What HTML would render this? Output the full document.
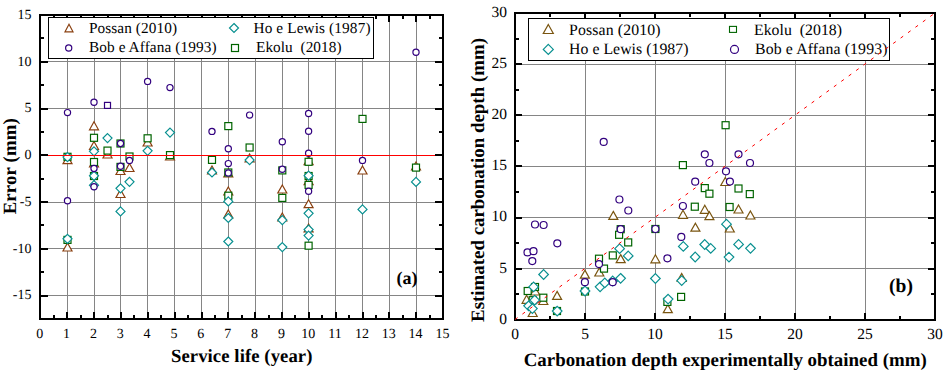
<!DOCTYPE html><html><head><meta charset="utf-8"><style>html,body{margin:0;padding:0;background:#fff;width:949px;height:378px;overflow:hidden}svg{display:block;position:absolute;left:0;top:0}text{font-family:"Liberation Serif",serif;text-rendering:geometricPrecision}</style></head><body>
<svg width="949" height="378" viewBox="0 0 949 378">
<path d="M67.5 15V319M94.5 15V319M120.5 15V319M147.5 15V319M174.5 15V319M201.5 15V319M228.5 15V319M255.5 15V319M282.5 15V319M308.5 15V319M335.5 15V319M362.5 15V319M389.5 15V319M416.5 15V319M40 61.5H443M40 108.5H443M40 155.5H443M40 202.5H443M40 248.5H443M40 295.5H443" stroke="#858585" stroke-width="1" fill="none"/>
<path d="M67.5 155.6L72.0 163.6H63.0Z" fill="#fff" stroke="#8a4010" stroke-width="1.2" stroke-linejoin="miter"/>
<path d="M67.5 243.0L72.0 251.0H63.0Z" fill="#fff" stroke="#8a4010" stroke-width="1.2" stroke-linejoin="miter"/>
<path d="M94.0 121.8L98.5 129.8H89.5Z" fill="#fff" stroke="#8a4010" stroke-width="1.2" stroke-linejoin="miter"/>
<path d="M94.0 141.5L98.5 149.5H89.5Z" fill="#fff" stroke="#8a4010" stroke-width="1.2" stroke-linejoin="miter"/>
<path d="M94.0 159.0L98.5 167.0H89.5Z" fill="#fff" stroke="#8a4010" stroke-width="1.2" stroke-linejoin="miter"/>
<path d="M107.5 150.0L112.0 158.0H103.0Z" fill="#fff" stroke="#8a4010" stroke-width="1.2" stroke-linejoin="miter"/>
<path d="M120.5 166.5L125.0 174.5H116.0Z" fill="#fff" stroke="#8a4010" stroke-width="1.2" stroke-linejoin="miter"/>
<path d="M120.5 189.5L125.0 197.5H116.0Z" fill="#fff" stroke="#8a4010" stroke-width="1.2" stroke-linejoin="miter"/>
<path d="M129.5 163.5L134.0 171.5H125.0Z" fill="#fff" stroke="#8a4010" stroke-width="1.2" stroke-linejoin="miter"/>
<path d="M147.6 138.0L152.1 146.0H143.1Z" fill="#fff" stroke="#8a4010" stroke-width="1.2" stroke-linejoin="miter"/>
<path d="M170.0 152.0L174.5 160.0H165.5Z" fill="#fff" stroke="#8a4010" stroke-width="1.2" stroke-linejoin="miter"/>
<path d="M212.0 166.0L216.5 174.0H207.5Z" fill="#fff" stroke="#8a4010" stroke-width="1.2" stroke-linejoin="miter"/>
<path d="M228.3 169.0L232.8 177.0H223.8Z" fill="#fff" stroke="#8a4010" stroke-width="1.2" stroke-linejoin="miter"/>
<path d="M228.3 187.0L232.8 195.0H223.8Z" fill="#fff" stroke="#8a4010" stroke-width="1.2" stroke-linejoin="miter"/>
<path d="M228.3 210.0L232.8 218.0H223.8Z" fill="#fff" stroke="#8a4010" stroke-width="1.2" stroke-linejoin="miter"/>
<path d="M249.6 154.0L254.1 162.0H245.1Z" fill="#fff" stroke="#8a4010" stroke-width="1.2" stroke-linejoin="miter"/>
<path d="M282.3 185.0L286.8 193.0H277.8Z" fill="#fff" stroke="#8a4010" stroke-width="1.2" stroke-linejoin="miter"/>
<path d="M282.3 213.0L286.8 221.0H277.8Z" fill="#fff" stroke="#8a4010" stroke-width="1.2" stroke-linejoin="miter"/>
<path d="M308.6 156.6L313.1 164.6H304.1Z" fill="#fff" stroke="#8a4010" stroke-width="1.2" stroke-linejoin="miter"/>
<path d="M308.6 176.6L313.1 184.6H304.1Z" fill="#fff" stroke="#8a4010" stroke-width="1.2" stroke-linejoin="miter"/>
<path d="M308.6 199.7L313.1 207.7H304.1Z" fill="#fff" stroke="#8a4010" stroke-width="1.2" stroke-linejoin="miter"/>
<path d="M308.6 224.0L313.1 232.0H304.1Z" fill="#fff" stroke="#8a4010" stroke-width="1.2" stroke-linejoin="miter"/>
<path d="M362.5 166.0L367.0 174.0H358.0Z" fill="#fff" stroke="#8a4010" stroke-width="1.2" stroke-linejoin="miter"/>
<path d="M416.0 162.0L420.5 170.0H411.5Z" fill="#fff" stroke="#8a4010" stroke-width="1.2" stroke-linejoin="miter"/>
<rect x="64.0" y="153.3" width="7" height="7" fill="#fff" stroke="#006400" stroke-width="1.2"/>
<rect x="64.0" y="236.4" width="7" height="7" fill="#fff" stroke="#006400" stroke-width="1.2"/>
<rect x="90.5" y="134.3" width="7" height="7" fill="#fff" stroke="#006400" stroke-width="1.2"/>
<rect x="90.5" y="158.5" width="7" height="7" fill="#fff" stroke="#006400" stroke-width="1.2"/>
<rect x="90.5" y="172.5" width="7" height="7" fill="#fff" stroke="#006400" stroke-width="1.2"/>
<rect x="104.0" y="147.1" width="7" height="7" fill="#fff" stroke="#006400" stroke-width="1.2"/>
<rect x="117.0" y="140.0" width="7" height="7" fill="#fff" stroke="#006400" stroke-width="1.2"/>
<rect x="117.0" y="163.4" width="7" height="7" fill="#fff" stroke="#006400" stroke-width="1.2"/>
<rect x="126.0" y="153.0" width="7" height="7" fill="#fff" stroke="#006400" stroke-width="1.2"/>
<rect x="144.1" y="134.8" width="7" height="7" fill="#fff" stroke="#006400" stroke-width="1.2"/>
<rect x="166.5" y="151.6" width="7" height="7" fill="#fff" stroke="#006400" stroke-width="1.2"/>
<rect x="208.5" y="156.4" width="7" height="7" fill="#fff" stroke="#006400" stroke-width="1.2"/>
<rect x="224.8" y="122.6" width="7" height="7" fill="#fff" stroke="#006400" stroke-width="1.2"/>
<rect x="224.8" y="169.0" width="7" height="7" fill="#fff" stroke="#006400" stroke-width="1.2"/>
<rect x="224.8" y="192.2" width="7" height="7" fill="#fff" stroke="#006400" stroke-width="1.2"/>
<rect x="246.1" y="144.0" width="7" height="7" fill="#fff" stroke="#006400" stroke-width="1.2"/>
<rect x="278.8" y="166.9" width="7" height="7" fill="#fff" stroke="#006400" stroke-width="1.2"/>
<rect x="278.8" y="194.4" width="7" height="7" fill="#fff" stroke="#006400" stroke-width="1.2"/>
<rect x="305.1" y="158.3" width="7" height="7" fill="#fff" stroke="#006400" stroke-width="1.2"/>
<rect x="305.1" y="172.5" width="7" height="7" fill="#fff" stroke="#006400" stroke-width="1.2"/>
<rect x="305.1" y="181.4" width="7" height="7" fill="#fff" stroke="#006400" stroke-width="1.2"/>
<rect x="305.1" y="242.2" width="7" height="7" fill="#fff" stroke="#006400" stroke-width="1.2"/>
<rect x="359.0" y="115.4" width="7" height="7" fill="#fff" stroke="#006400" stroke-width="1.2"/>
<rect x="412.5" y="164.1" width="7" height="7" fill="#fff" stroke="#006400" stroke-width="1.2"/>
<rect x="104.5" y="102.4" width="6" height="6" fill="#fff" stroke="#32007f" stroke-width="1.2"/>
<path d="M67.5 152.6L72.0 157.1L67.5 161.6L63.0 157.1Z" fill="#fff" stroke="#089090" stroke-width="1.2"/>
<path d="M67.5 234.3L72.0 238.8L67.5 243.3L63.0 238.8Z" fill="#fff" stroke="#089090" stroke-width="1.2"/>
<path d="M94.0 146.8L98.5 151.3L94.0 155.8L89.5 151.3Z" fill="#fff" stroke="#089090" stroke-width="1.2"/>
<path d="M94.0 171.3L98.5 175.8L94.0 180.3L89.5 175.8Z" fill="#fff" stroke="#089090" stroke-width="1.2"/>
<path d="M94.0 180.7L98.5 185.2L94.0 189.7L89.5 185.2Z" fill="#fff" stroke="#089090" stroke-width="1.2"/>
<path d="M107.5 133.6L112.0 138.1L107.5 142.6L103.0 138.1Z" fill="#fff" stroke="#089090" stroke-width="1.2"/>
<path d="M120.5 183.8L125.0 188.3L120.5 192.8L116.0 188.3Z" fill="#fff" stroke="#089090" stroke-width="1.2"/>
<path d="M120.5 206.9L125.0 211.4L120.5 215.9L116.0 211.4Z" fill="#fff" stroke="#089090" stroke-width="1.2"/>
<path d="M129.5 177.3L134.0 181.8L129.5 186.3L125.0 181.8Z" fill="#fff" stroke="#089090" stroke-width="1.2"/>
<path d="M147.6 146.3L152.1 150.8L147.6 155.3L143.1 150.8Z" fill="#fff" stroke="#089090" stroke-width="1.2"/>
<path d="M170.0 128.1L174.5 132.6L170.0 137.1L165.5 132.6Z" fill="#fff" stroke="#089090" stroke-width="1.2"/>
<path d="M212.0 168.0L216.5 172.5L212.0 177.0L207.5 172.5Z" fill="#fff" stroke="#089090" stroke-width="1.2"/>
<path d="M228.3 196.9L232.8 201.4L228.3 205.9L223.8 201.4Z" fill="#fff" stroke="#089090" stroke-width="1.2"/>
<path d="M228.3 213.5L232.8 218.0L228.3 222.5L223.8 218.0Z" fill="#fff" stroke="#089090" stroke-width="1.2"/>
<path d="M228.3 237.0L232.8 241.5L228.3 246.0L223.8 241.5Z" fill="#fff" stroke="#089090" stroke-width="1.2"/>
<path d="M249.6 155.6L254.1 160.1L249.6 164.6L245.1 160.1Z" fill="#fff" stroke="#089090" stroke-width="1.2"/>
<path d="M282.3 215.6L286.8 220.1L282.3 224.6L277.8 220.1Z" fill="#fff" stroke="#089090" stroke-width="1.2"/>
<path d="M282.3 242.6L286.8 247.1L282.3 251.6L277.8 247.1Z" fill="#fff" stroke="#089090" stroke-width="1.2"/>
<path d="M308.6 171.2L313.1 175.7L308.6 180.2L304.1 175.7Z" fill="#fff" stroke="#089090" stroke-width="1.2"/>
<path d="M308.6 208.8L313.1 213.3L308.6 217.8L304.1 213.3Z" fill="#fff" stroke="#089090" stroke-width="1.2"/>
<path d="M308.6 225.1L313.1 229.6L308.6 234.1L304.1 229.6Z" fill="#fff" stroke="#089090" stroke-width="1.2"/>
<path d="M308.6 231.1L313.1 235.6L308.6 240.1L304.1 235.6Z" fill="#fff" stroke="#089090" stroke-width="1.2"/>
<path d="M362.5 204.9L367.0 209.4L362.5 213.9L358.0 209.4Z" fill="#fff" stroke="#089090" stroke-width="1.2"/>
<path d="M416.0 177.4L420.5 181.9L416.0 186.4L411.5 181.9Z" fill="#fff" stroke="#089090" stroke-width="1.2"/>
<circle cx="67.5" cy="112.6" r="3.1" fill="#fff" stroke="#32007f" stroke-width="1.2"/>
<circle cx="67.5" cy="200.8" r="3.1" fill="#fff" stroke="#32007f" stroke-width="1.2"/>
<circle cx="94.0" cy="102.3" r="3.1" fill="#fff" stroke="#32007f" stroke-width="1.2"/>
<circle cx="94.0" cy="168.5" r="3.1" fill="#fff" stroke="#32007f" stroke-width="1.2"/>
<circle cx="94.0" cy="186.8" r="3.1" fill="#fff" stroke="#32007f" stroke-width="1.2"/>
<circle cx="120.5" cy="143.5" r="3.1" fill="#fff" stroke="#32007f" stroke-width="1.2"/>
<circle cx="120.5" cy="166.3" r="3.1" fill="#fff" stroke="#32007f" stroke-width="1.2"/>
<circle cx="129.5" cy="160.4" r="3.1" fill="#fff" stroke="#32007f" stroke-width="1.2"/>
<circle cx="147.6" cy="81.4" r="3.1" fill="#fff" stroke="#32007f" stroke-width="1.2"/>
<circle cx="170.0" cy="87.6" r="3.1" fill="#fff" stroke="#32007f" stroke-width="1.2"/>
<circle cx="212.0" cy="131.4" r="3.1" fill="#fff" stroke="#32007f" stroke-width="1.2"/>
<circle cx="228.3" cy="148.8" r="3.1" fill="#fff" stroke="#32007f" stroke-width="1.2"/>
<circle cx="228.3" cy="163.6" r="3.1" fill="#fff" stroke="#32007f" stroke-width="1.2"/>
<circle cx="228.3" cy="172.9" r="3.1" fill="#fff" stroke="#32007f" stroke-width="1.2"/>
<circle cx="249.6" cy="115.1" r="3.1" fill="#fff" stroke="#32007f" stroke-width="1.2"/>
<circle cx="282.3" cy="141.7" r="3.1" fill="#fff" stroke="#32007f" stroke-width="1.2"/>
<circle cx="282.3" cy="169.2" r="3.1" fill="#fff" stroke="#32007f" stroke-width="1.2"/>
<circle cx="308.6" cy="113.5" r="3.1" fill="#fff" stroke="#32007f" stroke-width="1.2"/>
<circle cx="308.6" cy="131.3" r="3.1" fill="#fff" stroke="#32007f" stroke-width="1.2"/>
<circle cx="308.6" cy="153.3" r="3.1" fill="#fff" stroke="#32007f" stroke-width="1.2"/>
<circle cx="308.6" cy="191.3" r="3.1" fill="#fff" stroke="#32007f" stroke-width="1.2"/>
<circle cx="362.5" cy="160.4" r="3.1" fill="#fff" stroke="#32007f" stroke-width="1.2"/>
<circle cx="416.0" cy="52.2" r="3.1" fill="#fff" stroke="#32007f" stroke-width="1.2"/>
<path d="M40 155.5H443" stroke="#ff0000" stroke-width="1"/>
<path d="M54 319V315M54 15V19M67 319V312M67 15V22M81 319V315M81 15V19M94 319V312M94 15V22M108 319V315M108 15V19M121 319V312M121 15V22M134 319V315M134 15V19M148 319V312M148 15V22M161 319V315M161 15V19M175 319V312M175 15V22M188 319V315M188 15V19M202 319V312M202 15V22M215 319V315M215 15V19M228 319V312M228 15V22M242 319V315M242 15V19M255 319V312M255 15V22M269 319V315M269 15V19M282 319V312M282 15V22M295 319V315M295 15V19M309 319V312M309 15V22M322 319V315M322 15V19M336 319V312M336 15V22M349 319V315M349 15V19M363 319V312M363 15V22M376 319V315M376 15V19M389 319V312M389 15V22M403 319V315M403 15V19M416 319V312M416 15V22M430 319V315M430 15V19M40 38H44M443 38H439M40 62H48M443 62H435M40 85H44M443 85H439M40 109H48M443 109H435M40 132H44M443 132H439M40 155H48M443 155H435M40 179H44M443 179H439M40 202H48M443 202H435M40 225H44M443 225H439M40 249H48M443 249H435M40 272H44M443 272H439M40 296H48M443 296H435" stroke="#000" stroke-width="2" fill="none"/>
<rect x="40" y="15" width="403" height="304" fill="none" stroke="#000" stroke-width="2"/>
<rect x="48.5" y="17.5" width="325" height="41" fill="#fff" stroke="#000" stroke-width="1"/>
<path d="M69.0 24.2L73.0 31.8H65.0Z" fill="#fff" stroke="#8a4010" stroke-width="1.2" stroke-linejoin="miter"/>
<circle cx="68.7" cy="48.0" r="3.1" fill="#fff" stroke="#32007f" stroke-width="1.2"/>
<path d="M234.0 23.5L238.5 28.0L234.0 32.5L229.5 28.0Z" fill="#fff" stroke="#089090" stroke-width="1.2"/>
<rect x="231.5" y="44.5" width="7" height="7" fill="#fff" stroke="#006400" stroke-width="1.2"/>
<g font-size="15.3px" fill="#000">
<text x="89" y="32.5" textLength="88" lengthAdjust="spacing">Possan (2010)</text>
<text x="89" y="52" textLength="127.5" lengthAdjust="spacing">Bob e Affana (1993)</text>
<text x="253.5" y="32.5" textLength="117" lengthAdjust="spacing">Ho e Lewis (1987)</text>
<text x="256" y="52" textLength="85.5" lengthAdjust="spacing">Ekolu&#160; (2018)</text>
</g>
<g font-size="14px" fill="#000">
<text x="31.5" y="18.7" text-anchor="end">15</text>
<text x="31.5" y="65.5" text-anchor="end">10</text>
<text x="31.5" y="112.2" text-anchor="end">5</text>
<text x="31.5" y="159.0" text-anchor="end">0</text>
<text x="31.5" y="205.8" text-anchor="end">-5</text>
<text x="31.5" y="252.5" text-anchor="end">-10</text>
<text x="31.5" y="299.3" text-anchor="end">-15</text>
<text x="39.7" y="338" text-anchor="middle">0</text>
<text x="66.5" y="338" text-anchor="middle">1</text>
<text x="93.4" y="338" text-anchor="middle">2</text>
<text x="120.3" y="338" text-anchor="middle">3</text>
<text x="147.1" y="338" text-anchor="middle">4</text>
<text x="174.0" y="338" text-anchor="middle">5</text>
<text x="200.8" y="338" text-anchor="middle">6</text>
<text x="227.7" y="338" text-anchor="middle">7</text>
<text x="254.5" y="338" text-anchor="middle">8</text>
<text x="281.4" y="338" text-anchor="middle">9</text>
<text x="308.2" y="338" text-anchor="middle">10</text>
<text x="335.1" y="338" text-anchor="middle">11</text>
<text x="361.9" y="338" text-anchor="middle">12</text>
<text x="388.8" y="338" text-anchor="middle">13</text>
<text x="415.6" y="338" text-anchor="middle">14</text>
<text x="442.4" y="338" text-anchor="middle">15</text>
</g>
<text x="241.7" y="361.8" text-anchor="middle" font-size="18.7px" font-weight="bold" textLength="141.5" lengthAdjust="spacing">Service life (year)</text>
<text transform="translate(15.9 166.3) rotate(-90)" text-anchor="middle" font-size="18.7px" font-weight="bold" textLength="96" lengthAdjust="spacing">Error (mm)</text>
<text x="407" y="283.5" text-anchor="middle" font-size="18px" font-weight="bold">(a)</text>
<path d="M585.5 13V320M655.5 13V320M725.5 13V320M795.5 13V320M865.5 13V320M515 268.5H935M515 217.5H935M515 166.5H935M515 115.5H935M515 64.5H935" stroke="#858585" stroke-width="1" fill="none"/>
<path d="M526.6 295.3L531.1 303.3H522.1Z" fill="#fff" stroke="#7a5510" stroke-width="1.2" stroke-linejoin="miter"/>
<path d="M535.2 287.0L539.7 295.0H530.7Z" fill="#fff" stroke="#7a5510" stroke-width="1.2" stroke-linejoin="miter"/>
<path d="M543.3 296.5L547.8 304.5H538.8Z" fill="#fff" stroke="#7a5510" stroke-width="1.2" stroke-linejoin="miter"/>
<path d="M532.7 308.5L537.2 316.5H528.2Z" fill="#fff" stroke="#7a5510" stroke-width="1.2" stroke-linejoin="miter"/>
<path d="M557.1 291.4L561.6 299.4H552.6Z" fill="#fff" stroke="#7a5510" stroke-width="1.2" stroke-linejoin="miter"/>
<path d="M584.9 270.1L589.4 278.1H580.4Z" fill="#fff" stroke="#7a5510" stroke-width="1.2" stroke-linejoin="miter"/>
<path d="M599.3 268.0L603.8 276.0H594.8Z" fill="#fff" stroke="#7a5510" stroke-width="1.2" stroke-linejoin="miter"/>
<path d="M620.7 254.6L625.2 262.6H616.2Z" fill="#fff" stroke="#7a5510" stroke-width="1.2" stroke-linejoin="miter"/>
<path d="M613.3 211.4L617.8 219.4H608.8Z" fill="#fff" stroke="#7a5510" stroke-width="1.2" stroke-linejoin="miter"/>
<path d="M655.4 254.8L659.9 262.8H650.9Z" fill="#fff" stroke="#7a5510" stroke-width="1.2" stroke-linejoin="miter"/>
<path d="M681.7 273.5L686.2 281.5H677.2Z" fill="#fff" stroke="#7a5510" stroke-width="1.2" stroke-linejoin="miter"/>
<path d="M667.8 304.6L672.3 312.6H663.3Z" fill="#fff" stroke="#7a5510" stroke-width="1.2" stroke-linejoin="miter"/>
<path d="M683.0 210.3L687.5 218.3H678.5Z" fill="#fff" stroke="#7a5510" stroke-width="1.2" stroke-linejoin="miter"/>
<path d="M695.4 223.2L699.9 231.2H690.9Z" fill="#fff" stroke="#7a5510" stroke-width="1.2" stroke-linejoin="miter"/>
<path d="M704.8 205.3L709.3 213.3H700.3Z" fill="#fff" stroke="#7a5510" stroke-width="1.2" stroke-linejoin="miter"/>
<path d="M709.4 211.7L713.9 219.7H704.9Z" fill="#fff" stroke="#7a5510" stroke-width="1.2" stroke-linejoin="miter"/>
<path d="M725.3 177.5L729.8 185.5H720.8Z" fill="#fff" stroke="#7a5510" stroke-width="1.2" stroke-linejoin="miter"/>
<path d="M729.8 224.0L734.3 232.0H725.3Z" fill="#fff" stroke="#7a5510" stroke-width="1.2" stroke-linejoin="miter"/>
<path d="M738.5 205.0L743.0 213.0H734.0Z" fill="#fff" stroke="#7a5510" stroke-width="1.2" stroke-linejoin="miter"/>
<path d="M750.4 211.0L754.9 219.0H745.9Z" fill="#fff" stroke="#7a5510" stroke-width="1.2" stroke-linejoin="miter"/>
<rect x="531.5" y="283.5" width="7" height="7" fill="#fff" stroke="#006400" stroke-width="1.2"/>
<rect x="524.2" y="287.5" width="7" height="7" fill="#fff" stroke="#006400" stroke-width="1.2"/>
<rect x="539.8" y="294.2" width="7" height="7" fill="#fff" stroke="#006400" stroke-width="1.2"/>
<rect x="529.2" y="296.7" width="7" height="7" fill="#fff" stroke="#006400" stroke-width="1.2"/>
<rect x="553.5" y="307.5" width="7" height="7" fill="#fff" stroke="#006400" stroke-width="1.2"/>
<rect x="581.5" y="288.0" width="7" height="7" fill="#fff" stroke="#006400" stroke-width="1.2"/>
<rect x="595.5" y="255.2" width="7" height="7" fill="#fff" stroke="#006400" stroke-width="1.2"/>
<rect x="600.5" y="265.1" width="7" height="7" fill="#fff" stroke="#006400" stroke-width="1.2"/>
<rect x="609.3" y="251.9" width="7" height="7" fill="#fff" stroke="#006400" stroke-width="1.2"/>
<rect x="617.2" y="225.7" width="7" height="7" fill="#fff" stroke="#006400" stroke-width="1.2"/>
<rect x="615.6" y="231.3" width="7" height="7" fill="#fff" stroke="#006400" stroke-width="1.2"/>
<rect x="624.7" y="238.9" width="7" height="7" fill="#fff" stroke="#006400" stroke-width="1.2"/>
<rect x="651.9" y="225.5" width="7" height="7" fill="#fff" stroke="#006400" stroke-width="1.2"/>
<rect x="677.6" y="293.4" width="7" height="7" fill="#fff" stroke="#006400" stroke-width="1.2"/>
<rect x="663.9" y="298.4" width="7" height="7" fill="#fff" stroke="#006400" stroke-width="1.2"/>
<rect x="679.4" y="161.6" width="7" height="7" fill="#fff" stroke="#006400" stroke-width="1.2"/>
<rect x="691.3" y="203.2" width="7" height="7" fill="#fff" stroke="#006400" stroke-width="1.2"/>
<rect x="701.3" y="184.6" width="7" height="7" fill="#fff" stroke="#006400" stroke-width="1.2"/>
<rect x="705.9" y="190.2" width="7" height="7" fill="#fff" stroke="#006400" stroke-width="1.2"/>
<rect x="722.1" y="121.7" width="7" height="7" fill="#fff" stroke="#006400" stroke-width="1.2"/>
<rect x="726.1" y="203.5" width="7" height="7" fill="#fff" stroke="#006400" stroke-width="1.2"/>
<rect x="735.0" y="185.0" width="7" height="7" fill="#fff" stroke="#006400" stroke-width="1.2"/>
<rect x="746.3" y="190.6" width="7" height="7" fill="#fff" stroke="#006400" stroke-width="1.2"/>
<path d="M543.6 269.7L548.4 274.5L543.6 279.3L538.8 274.5Z" fill="#fff" stroke="#089090" stroke-width="1.2"/>
<path d="M533.6 282.1L538.4 286.9L533.6 291.7L528.8 286.9Z" fill="#fff" stroke="#089090" stroke-width="1.2"/>
<path d="M534.7 295.4L539.5 300.2L534.7 305.0L529.9 300.2Z" fill="#fff" stroke="#089090" stroke-width="1.2"/>
<path d="M528.6 301.0L533.4 305.8L528.6 310.6L523.8 305.8Z" fill="#fff" stroke="#089090" stroke-width="1.2"/>
<path d="M532.4 303.8L537.2 308.6L532.4 313.4L527.6 308.6Z" fill="#fff" stroke="#089090" stroke-width="1.2"/>
<path d="M557.2 306.3L562.0 311.1L557.2 315.9L552.4 311.1Z" fill="#fff" stroke="#089090" stroke-width="1.2"/>
<path d="M585.0 286.2L589.8 291.0L585.0 295.8L580.2 291.0Z" fill="#fff" stroke="#089090" stroke-width="1.2"/>
<path d="M600.1 282.0L604.9 286.8L600.1 291.6L595.3 286.8Z" fill="#fff" stroke="#089090" stroke-width="1.2"/>
<path d="M604.8 278.1L609.6 282.9L604.8 287.7L600.0 282.9Z" fill="#fff" stroke="#089090" stroke-width="1.2"/>
<path d="M612.7 276.2L617.5 281.0L612.7 285.8L607.9 281.0Z" fill="#fff" stroke="#089090" stroke-width="1.2"/>
<path d="M620.6 273.5L625.4 278.3L620.6 283.1L615.8 278.3Z" fill="#fff" stroke="#089090" stroke-width="1.2"/>
<path d="M619.6 243.9L624.4 248.7L619.6 253.5L614.8 248.7Z" fill="#fff" stroke="#089090" stroke-width="1.2"/>
<path d="M628.2 251.1L633.0 255.9L628.2 260.7L623.4 255.9Z" fill="#fff" stroke="#089090" stroke-width="1.2"/>
<path d="M655.4 273.7L660.2 278.5L655.4 283.3L650.6 278.5Z" fill="#fff" stroke="#089090" stroke-width="1.2"/>
<path d="M681.7 275.8L686.5 280.6L681.7 285.4L676.9 280.6Z" fill="#fff" stroke="#089090" stroke-width="1.2"/>
<path d="M668.1 294.3L672.9 299.1L668.1 303.9L663.3 299.1Z" fill="#fff" stroke="#089090" stroke-width="1.2"/>
<path d="M683.3 241.6L688.1 246.4L683.3 251.2L678.5 246.4Z" fill="#fff" stroke="#089090" stroke-width="1.2"/>
<path d="M695.2 252.2L700.0 257.0L695.2 261.8L690.4 257.0Z" fill="#fff" stroke="#089090" stroke-width="1.2"/>
<path d="M704.7 239.7L709.5 244.5L704.7 249.3L699.9 244.5Z" fill="#fff" stroke="#089090" stroke-width="1.2"/>
<path d="M710.7 243.6L715.5 248.4L710.7 253.2L705.9 248.4Z" fill="#fff" stroke="#089090" stroke-width="1.2"/>
<path d="M726.5 219.4L731.3 224.2L726.5 229.0L721.7 224.2Z" fill="#fff" stroke="#089090" stroke-width="1.2"/>
<path d="M738.6 239.6L743.4 244.4L738.6 249.2L733.8 244.4Z" fill="#fff" stroke="#089090" stroke-width="1.2"/>
<path d="M750.5 243.5L755.3 248.3L750.5 253.1L745.7 248.3Z" fill="#fff" stroke="#089090" stroke-width="1.2"/>
<path d="M729.0 252.3L733.8 257.1L729.0 261.9L724.2 257.1Z" fill="#fff" stroke="#089090" stroke-width="1.2"/>
<circle cx="535.0" cy="224.5" r="3.5" fill="#fff" stroke="#32007f" stroke-width="1.2"/>
<circle cx="543.6" cy="225.0" r="3.5" fill="#fff" stroke="#32007f" stroke-width="1.2"/>
<circle cx="557.3" cy="243.3" r="3.5" fill="#fff" stroke="#32007f" stroke-width="1.2"/>
<circle cx="527.5" cy="252.4" r="3.5" fill="#fff" stroke="#32007f" stroke-width="1.2"/>
<circle cx="533.5" cy="251.2" r="3.5" fill="#fff" stroke="#32007f" stroke-width="1.2"/>
<circle cx="532.3" cy="261.1" r="3.5" fill="#fff" stroke="#32007f" stroke-width="1.2"/>
<circle cx="584.9" cy="282.2" r="3.5" fill="#fff" stroke="#32007f" stroke-width="1.2"/>
<circle cx="599.0" cy="264.1" r="3.5" fill="#fff" stroke="#32007f" stroke-width="1.2"/>
<circle cx="603.7" cy="141.9" r="3.5" fill="#fff" stroke="#32007f" stroke-width="1.2"/>
<circle cx="619.4" cy="199.5" r="3.5" fill="#fff" stroke="#32007f" stroke-width="1.2"/>
<circle cx="628.3" cy="210.5" r="3.5" fill="#fff" stroke="#32007f" stroke-width="1.2"/>
<circle cx="620.7" cy="229.2" r="3.5" fill="#fff" stroke="#32007f" stroke-width="1.2"/>
<circle cx="612.7" cy="282.2" r="3.5" fill="#fff" stroke="#32007f" stroke-width="1.2"/>
<circle cx="655.4" cy="229.0" r="3.5" fill="#fff" stroke="#32007f" stroke-width="1.2"/>
<circle cx="682.9" cy="206.0" r="3.5" fill="#fff" stroke="#32007f" stroke-width="1.2"/>
<circle cx="681.3" cy="236.9" r="3.5" fill="#fff" stroke="#32007f" stroke-width="1.2"/>
<circle cx="667.4" cy="258.3" r="3.5" fill="#fff" stroke="#32007f" stroke-width="1.2"/>
<circle cx="695.2" cy="181.7" r="3.5" fill="#fff" stroke="#32007f" stroke-width="1.2"/>
<circle cx="704.8" cy="154.3" r="3.5" fill="#fff" stroke="#32007f" stroke-width="1.2"/>
<circle cx="709.4" cy="163.0" r="3.5" fill="#fff" stroke="#32007f" stroke-width="1.2"/>
<circle cx="738.5" cy="154.3" r="3.5" fill="#fff" stroke="#32007f" stroke-width="1.2"/>
<circle cx="750.0" cy="163.0" r="3.5" fill="#fff" stroke="#32007f" stroke-width="1.2"/>
<circle cx="726.0" cy="171.3" r="3.5" fill="#fff" stroke="#32007f" stroke-width="1.2"/>
<circle cx="729.9" cy="181.6" r="3.5" fill="#fff" stroke="#32007f" stroke-width="1.2"/>
<path d="M550 320V316M550 13V17M585 320V313M585 13V20M620 320V316M620 13V17M655 320V313M655 13V20M690 320V316M690 13V17M725 320V313M725 13V20M760 320V316M760 13V17M795 320V313M795 13V20M830 320V316M830 13V17M865 320V313M865 13V20M900 320V316M900 13V17M515 294H519M935 294H931M515 269H522M935 269H928M515 243H519M935 243H931M515 218H522M935 218H928M515 192H519M935 192H931M515 166H522M935 166H928M515 141H519M935 141H931M515 115H522M935 115H928M515 90H519M935 90H931M515 64H522M935 64H928M515 39H519M935 39H931" stroke="#000" stroke-width="2" fill="none"/>
<rect x="515" y="13" width="420" height="307" fill="none" stroke="#000" stroke-width="2"/>
<rect x="528.5" y="18.5" width="361" height="42" fill="#fff" stroke="#000" stroke-width="1"/>
<path d="M548.3 24.5L553.3 33.5H543.3Z" fill="#fff" stroke="#7a5510" stroke-width="1.2" stroke-linejoin="miter"/>
<path d="M548.3 44.4L553.3 49.4L548.3 54.4L543.3 49.4Z" fill="#fff" stroke="#089090" stroke-width="1.2"/>
<rect x="729.5" y="26.4" width="7" height="6" fill="#fff" stroke="#006400" stroke-width="1.1"/>
<circle cx="734.5" cy="49.4" r="4" fill="#fff" stroke="#32007f" stroke-width="1.2"/>
<g font-size="15.8px" fill="#000">
<text x="569" y="35" textLength="91.5" lengthAdjust="spacing">Possan (2010)</text>
<text x="569" y="54.3" textLength="119.5" lengthAdjust="spacing">Ho e Lewis (1987)</text>
<text x="754" y="35" textLength="88" lengthAdjust="spacing">Ekolu&#160; (2018)</text>
<text x="755" y="54.3" textLength="132.5" lengthAdjust="spacing">Bob e Affana (1993)</text>
</g>
<path d="M515 319.5L935 13" stroke="#ff0000" stroke-width="1" stroke-dasharray="3.2 5.98" fill="none"/>
<g font-size="15.5px" fill="#000">
<text x="507" y="323.7" text-anchor="end">0</text>
<text x="507" y="272.5" text-anchor="end">5</text>
<text x="507" y="221.4" text-anchor="end">10</text>
<text x="507" y="170.2" text-anchor="end">15</text>
<text x="507" y="119.0" text-anchor="end">20</text>
<text x="507" y="67.9" text-anchor="end">25</text>
<text x="507" y="16.7" text-anchor="end">30</text>
<text x="515.0" y="339" text-anchor="middle">0</text>
<text x="585.0" y="339" text-anchor="middle">5</text>
<text x="655.0" y="339" text-anchor="middle">10</text>
<text x="725.0" y="339" text-anchor="middle">15</text>
<text x="795.0" y="339" text-anchor="middle">20</text>
<text x="865.0" y="339" text-anchor="middle">25</text>
<text x="935.0" y="339" text-anchor="middle">30</text>
</g>
<text x="725.2" y="366" text-anchor="middle" font-size="18.9px" font-weight="bold">Carbonation depth experimentally obtained (mm)</text>
<text transform="translate(484.2 180) rotate(-90)" text-anchor="middle" font-size="18.9px" font-weight="bold">Estimated carbonation depth (mm)</text>
<text x="901" y="292.2" text-anchor="middle" font-size="19.5px" font-weight="bold">(b)</text>
</svg></body></html>
